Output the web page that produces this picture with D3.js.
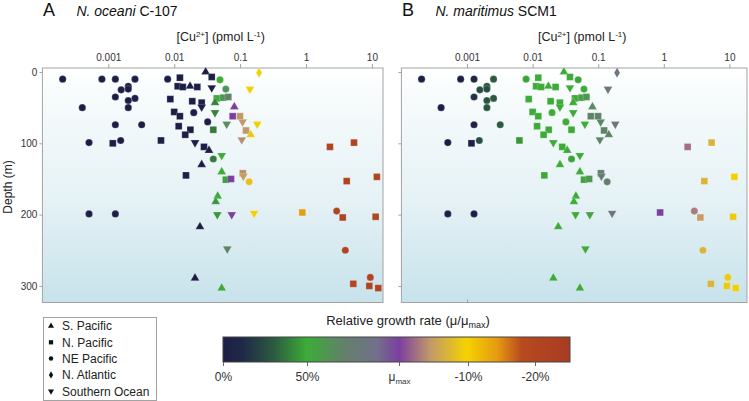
<!DOCTYPE html>
<html><head><meta charset="utf-8">
<script src="https://cdn.jsdelivr.net/npm/d3@7"></script>
<style>
body{margin:0;background:#fff}
svg{display:block;font-family:"Liberation Sans",Arial,Helvetica,sans-serif}
</style>
</head><body>
<svg id="c" width="749" height="401"></svg>
<script>
// ---------------- DATA ----------------
const regions = ["S. Pacific","N. Pacific","NE Pacific","N. Atlantic","Southern Ocean"];
const cuValues = [0.030,0.194,0.000203,0.00080,0.00128,0.00254,0.00796,0.0122,0.0371,0.0495,
 0.0113,0.0135,0.0174,0.0224,0.0371,0.0607,0.141,0.00201,0.00157,0.00201,
 0.00128,0.00254,0.00201,0.00873,0.0188,0.0261,0.0442,0.0556,0.0662,0.0416,
 0.000403,0.00201,0.0261,0.0817,0.0100,0.0122,0.0198,0.0416,0.0772,0.0996,
 0.0322,0.109,0.0626,0.182,0.00128,0.00321,0.0117,0.0176,0.0147,0.0392,
 0.123,0.145,0.00051,0.00154,0.00117,0.0063,0.0283,0.0207,0.106,2.31,
 5.35,0.0337,0.0526,0.0392,0.0261,0.0526,0.0151,0.0607,0.0728,0.110,
 0.112,0.137,4.15,11.9,0.0457,0.0426,0.00051,0.00128,0.0451,0.0746,
 0.163,0.879,2.92,3.61,11.4,0.0246,0.0639,3.95,0.0207,9.46,
 5.22,0.0526,9.14,12.5];
const depthValues = [0,1,10,10,10,10,10,8,7,11,
 20,21,20,21,22,24,24,20,25,24,
 35,37,40,38,41,43,37,36,35,43,
 50,50,49,49,56,62,57,57,62,62,
 70,70,73,73,74,74,76,81,88,81,
 82,88,99,96,100,96,105,99,95,105,
 99,110,117,122,130,140,145,151,150,142,
 146,154,153,147,174,182,199,199,200,200,
 198,197,195,204,203,217,248,250,289,288,
 297,303,300,303];
const regionIndex = [0,3,2,2,2,2,2,1,1,2,
 1,1,0,1,4,2,4,2,2,2,
 2,2,2,1,1,1,1,1,1,0,
 2,2,4,0,1,1,2,4,1,1,
 2,4,4,4,2,2,1,1,1,1,
 1,0,2,2,1,1,1,4,4,1,
 1,0,4,2,0,0,1,1,1,1,
 4,2,1,1,0,0,2,2,4,4,
 4,1,2,1,1,0,4,2,0,2,
 1,0,1,1];
// relative growth on the colour-bar scale: 0 = 0%, 50 = 50%, 100 = μmax, 110 = -10%, 120 = -20%
const growthA = [0,110,0,0,0,0,0,0,0,50,
 0,0,0,0,0,62,110,0,0,0,
 0,0,0,0,0,0,50,60,68,40,
 0,0,0,100,0,0,0,40,100,104.5,
 0,104.5,65,110,0,0,0,0,0,38,
 104.5,109,0,0,0,0,0,0,104,121,
 121,0,50,38,0,50,0,48,100,104,
 105,108,121,121,50,45,0,0,45,100,
 110,114,121,121,121,0,68,121,0,121,
 120,50,121,121];
const growthB = [50,82,0,0,8,30,48,50,50,48,
 50,50,50,50,50,50,80,28,25,25,
 15,30,28,50,50,50,50,55,58,50,
 0,28,50,65,50,50,50,50,68,70,
 50,66,50,80,5,30,50,50,50,50,
 68,68,0,25,0,45,50,50,68,102.5,
 107,50,50,48,50,50,50,55,60,70,
 75,70,107,110,50,50,0,0,50,55,
 80,100,103,105,109,50,50,107,50,109,
 107,50,109,110];
const depthTicks = [0,100,200,300];
const cuTicks = [0.001,0.01,0.1,1,10];
const cuTickLabels = ["0.001","0.01","0.1","1","10"];
const growthTicks = [0,50,100,110,120];
const growthTickLabels = ["0%","50%","μ","-10%","-20%"];

// ---------------- STYLE / LAYOUT ----------------
const colorStops = [
 [0,"#1d1e46"],[12,"#1f2a47"],[30,"#2b5a3f"],[50,"#3cac37"],[70,"#62806b"],
 [88,"#72708a"],[100,"#7b3f9f"],[104.6,"#c29a68"],[109.8,"#f5d200"],
 [114.4,"#e69a12"],[118,"#b84a1e"],[125,"#a83c22"]];
const color = d3.scaleLinear().domain(colorStops.map(d=>d[0])).range(colorStops.map(d=>d[1])).clamp(true);

const svg = d3.select("#c");
const defs = svg.append("defs");
const bg = defs.append("linearGradient").attr("id","bgGrad").attr("x1",0).attr("y1",0).attr("x2",0).attr("y2",1);
[[0,"#ffffff"],[0.12,"#f7fbfc"],[0.55,"#e6f2f6"],[1,"#c7e2eb"]].forEach(s=>bg.append("stop").attr("offset",s[0]).attr("stop-color",s[1]));

const plotTop = 68, plotBottom = 302.5;
const y = d3.scaleLinear().domain([-5.6, 323.2]).range([plotTop, plotBottom]);

const panels = [
 {letter:"A", sp:"N. oceani", strain:" C-107", x0:42.4, x1:383, dec:65.9, growth:growthA, yLabels:true, bottomTicks:false},
 {letter:"B", sp:"N. maritimus", strain:" SCM1", x0:401.4, x1:747, dec:65.6, growth:growthB, yLabels:false, bottomTicks:true}
];

const shapeTypes = [d3.symbolTriangle, d3.symbolSquare, d3.symbolCircle, d3.symbolDiamond, d3.symbolTriangle];
const shapeSizes = [34, 46, 40, 30, 34];
const shapeRot = [0,0,0,0,180];

const points = cuValues.map((c,i)=>({cu:c, depth:depthValues[i], r:regionIndex[i], i}));

panels.forEach(p=>{
  const x = d3.scaleLog().domain([1e-4, Math.pow(10, (p.x1-p.x0)/p.dec - 4)]).range([p.x0, p.x1]);
  const g = svg.append("g");
  g.append("rect").attr("x",p.x0).attr("y",plotTop).attr("width",p.x1-p.x0).attr("height",plotBottom-plotTop)
    .attr("fill","url(#bgGrad)").attr("stroke","#a3a3a3").attr("stroke-width",1);

  // top axis
  const ax = g.append("g").attr("transform",`translate(0,${plotTop})`)
    .call(d3.axisTop(x).tickValues(cuTicks).tickFormat((d,i)=>cuTickLabels[i]).tickSize(4).tickPadding(3));
  ax.select(".domain").remove();
  ax.selectAll("line").attr("stroke","#a3a3a3");
  ax.selectAll("text").attr("font-size",10).attr("fill","#333").attr("font-family","Liberation Sans, Arial, sans-serif");

  if (p.bottomTicks) {
    const bx = g.append("g").attr("transform",`translate(0,${plotBottom})`)
      .call(d3.axisTop(x).tickValues(cuTicks.slice(0,1)).tickFormat("").tickSize(3));
    bx.select(".domain").remove();
    bx.selectAll("line").attr("stroke","#a3a3a3");
  }

  // left axis
  const ay = g.append("g").attr("transform",`translate(${p.x0},0)`)
    .call(d3.axisLeft(y).tickValues(depthTicks).tickSize(3).tickPadding(2).tickFormat(p.yLabels? d3.format("d") : ""));
  ay.select(".domain").remove();
  ay.selectAll("line").attr("stroke","#a3a3a3");
  ay.selectAll("text").attr("font-size",10).attr("fill","#333").attr("font-family","Liberation Sans, Arial, sans-serif");

  // axis title
  const t = g.append("text").attr("x",(p.x0+p.x1)/2+8).attr("y",41).attr("text-anchor","middle")
    .attr("font-size",12.5).attr("fill","#222");
  t.append("tspan").text("[Cu");
  t.append("tspan").attr("font-size",8).attr("dy",-4).text("2+");
  t.append("tspan").attr("dy",4).text("] (pmol L");
  t.append("tspan").attr("font-size",8).attr("dy",-4).text("-1");
  t.append("tspan").attr("dy",4).text(")");

  // panel title
  g.append("text").attr("x",p.x0+0.5).attr("y",16).attr("font-size",18).attr("fill","#111").text(p.letter);
  const pt = g.append("text").attr("x",p.x0+34).attr("y",15.5).attr("font-size",14).attr("fill","#111");
  pt.append("tspan").attr("font-style","italic").text(p.sp);
  pt.append("tspan").text(p.strain);

  // points
  const growth = p.growth;
  g.append("g").selectAll("path").data(points).join("path")
    .attr("d", d=>d3.symbol().type(shapeTypes[d.r]).size(shapeSizes[d.r])())
    .attr("transform", d=>`translate(${x(d.cu)},${y(d.depth)}) rotate(${shapeRot[d.r]})`)
    .attr("fill", d=>color(growth[d.i]))
    .attr("stroke","#ffffff").attr("stroke-opacity",0.35).attr("stroke-width",0.6);
});

// y axis title
svg.append("text").attr("transform","translate(12,187) rotate(-90)").attr("text-anchor","middle")
  .attr("font-size",12).attr("fill","#222").text("Depth (m)");

// legend
const lg = svg.append("g");
lg.append("rect").attr("x",43.5).attr("y",317.5).attr("width",113).attr("height",83).attr("fill","#fff").attr("stroke","#a3a3a3");
regions.forEach((r,i)=>{
  const yy = 326 + i*16.3;
  lg.append("path").attr("d", d3.symbol().type(shapeTypes[i]).size(i===1?18:16)())
    .attr("transform",`translate(51,${yy}) rotate(${shapeRot[i]})`).attr("fill","#111");
  lg.append("text").attr("x",62).attr("y",yy+4.3).attr("font-size",12).attr("fill","#222").text(r);
});

// colour bar
const cbX0 = 223, cbX1 = 570, cbY0 = 337, cbY1 = 362;
const gpos = d3.scaleLinear().domain([0,50,100,110,120,125.2]).range([cbX0,307,399,468,535,cbX1]);
const cg = defs.append("linearGradient").attr("id","cbGrad").attr("x1",0).attr("x2",1).attr("y1",0).attr("y2",0);
colorStops.forEach(s=>cg.append("stop").attr("offset",(gpos(s[0])-cbX0)/(cbX1-cbX0)).attr("stop-color",s[1]));
svg.append("rect").attr("x",cbX0).attr("y",cbY0).attr("width",cbX1-cbX0).attr("height",cbY1-cbY0)
  .attr("fill","url(#cbGrad)").attr("stroke","#444").attr("stroke-width",1);
const cax = svg.append("g").attr("transform",`translate(0,${cbY1})`)
  .call(d3.axisBottom(gpos).tickValues(growthTicks).tickFormat((d,i)=>growthTickLabels[i]).tickSize(4).tickPadding(6));
cax.select(".domain").remove();
cax.selectAll("line").attr("stroke","#666");
cax.selectAll("text").attr("font-size",12).attr("fill","#333").attr("font-family","Liberation Sans, Arial, sans-serif");
cax.selectAll("text").filter((d,i)=>i===2).append("tspan").attr("font-size",8).attr("dy",3).text("max");

const ct = svg.append("text").attr("x",408).attr("y",325).attr("text-anchor","middle").attr("font-size",13).attr("fill","#222");
ct.append("tspan").text("Relative growth rate (μ/μ");
ct.append("tspan").attr("font-size",9).attr("dy",3).text("max");
ct.append("tspan").attr("dy",-3).text(")");
</script>
</body></html>
